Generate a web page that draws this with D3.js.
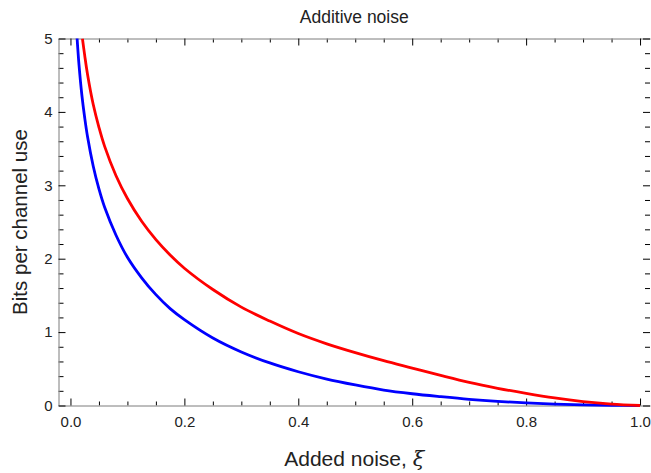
<!DOCTYPE html>
<html>
<head>
<meta charset="utf-8">
<script src="https://cdn.jsdelivr.net/npm/d3@7"></script>
<style>
  html, body { margin: 0; padding: 0; background: #fff; }
  svg { display: block; }
  text { font-family: "Liberation Sans", Arial, sans-serif; fill: #222; }
</style>
</head>
<body>
<svg id="chart" width="651" height="473"></svg>
<script>
// ---- data ----
const noiseXi = [0.0115, 0.015, 0.02, 0.025, 0.03, 0.04, 0.05, 0.06, 0.08, 0.1, 0.125, 0.15, 0.175, 0.2, 0.25, 0.3, 0.35, 0.4, 0.45, 0.5, 0.55, 0.6, 0.65, 0.7, 0.75, 0.8, 0.85, 0.9, 0.95, 1.0];
const blueBits = [5.02, 4.64, 4.23, 3.92, 3.66, 3.26, 2.95, 2.70, 2.32, 2.02, 1.74, 1.51, 1.32, 1.17, 0.92, 0.73, 0.58, 0.46, 0.36, 0.28, 0.21, 0.16, 0.12, 0.084, 0.056, 0.035, 0.019, 0.008, 0.002, 0.0];
const redXi = [0.021, 0.025, 0.03, 0.04, 0.05, 0.06, 0.08, 0.1, 0.125, 0.15, 0.175, 0.2, 0.25, 0.3, 0.35, 0.4, 0.45, 0.5, 0.55, 0.6, 0.65, 0.7, 0.75, 0.8, 0.85, 0.9, 0.95, 1.0];
const redBits = [5.0, 4.77, 4.51, 4.10, 3.79, 3.53, 3.13, 2.82, 2.51, 2.26, 2.05, 1.87, 1.58, 1.34, 1.15, 0.98, 0.84, 0.72, 0.61, 0.51, 0.41, 0.315, 0.235, 0.165, 0.103, 0.054, 0.02, 0.0];
const xMajorTicks = [0.0, 0.2, 0.4, 0.6, 0.8, 1.0];
const xMinorTicks = [0.05, 0.1, 0.15, 0.25, 0.3, 0.35, 0.45, 0.5, 0.55, 0.65, 0.7, 0.75, 0.85, 0.9, 0.95];
const yMajorTicks = [0, 1, 2, 3, 4, 5];
const yMinorTicks = [0.2,0.4,0.6,0.8,1.2,1.4,1.6,1.8,2.2,2.4,2.6,2.8,3.2,3.4,3.6,3.8,4.2,4.4,4.6,4.8];
const titleText = "Additive noise";
const yLabel = "Bits per channel use";

// ---- layout ----
const svg = d3.select("#chart");
const L = 58.5, R = 650, T = 38.5, B = 405.5;
const x = d3.scaleLinear().domain([-0.021, 1.0175]).range([L, R]);
const y = d3.scaleLinear().domain([0, 5]).range([B, T]);

function styleAxis(g, showDomain) {
  g.selectAll(".domain").attr("stroke", showDomain ? "#a8a8a8" : "none").attr("stroke-width", 1);
  g.selectAll(".tick line").attr("stroke", "#000").attr("stroke-width", 1);
  g.selectAll(".tick text").style("font-size", "15px").attr("fill", "#222");
}

// bottom
svg.append("g").attr("transform", `translate(0,${B})`)
  .call(d3.axisBottom(x).tickValues(xMinorTicks).tickSizeInner(-4).tickSizeOuter(0).tickFormat(""))
  .call(g => styleAxis(g, true));
svg.append("g").attr("transform", `translate(0,${B})`)
  .call(d3.axisBottom(x).tickValues(xMajorTicks).tickSizeInner(-7).tickSizeOuter(0).tickPadding(11).tickFormat(d3.format(".1f")))
  .call(g => styleAxis(g, true));
// top
svg.append("g").attr("transform", `translate(0,${T})`)
  .call(d3.axisTop(x).tickValues(xMinorTicks).tickSizeInner(-4).tickSizeOuter(0).tickFormat(""))
  .call(g => styleAxis(g, true));
svg.append("g").attr("transform", `translate(0,${T})`)
  .call(d3.axisTop(x).tickValues(xMajorTicks).tickSizeInner(-7).tickSizeOuter(0).tickFormat(""))
  .call(g => styleAxis(g, true));
// left
svg.append("g").attr("transform", `translate(${L},0)`)
  .call(d3.axisLeft(y).tickValues(yMinorTicks).tickSizeInner(-5).tickSizeOuter(0).tickFormat(""))
  .call(g => styleAxis(g, true));
svg.append("g").attr("transform", `translate(${L},0)`)
  .call(d3.axisLeft(y).tickValues(yMajorTicks).tickSizeInner(-7).tickSizeOuter(0).tickPadding(6).tickFormat(d3.format("d")))
  .call(g => styleAxis(g, true));
// right
svg.append("g").attr("transform", `translate(${R},0)`)
  .call(d3.axisRight(y).tickValues(yMinorTicks).tickSizeInner(-5).tickSizeOuter(0).tickFormat(""))
  .call(g => styleAxis(g, false));
svg.append("g").attr("transform", `translate(${R},0)`)
  .call(d3.axisRight(y).tickValues(yMajorTicks).tickSizeInner(-7).tickSizeOuter(0).tickFormat(""))
  .call(g => styleAxis(g, false));

// clip
svg.append("clipPath").attr("id", "clip")
  .append("rect").attr("x", L).attr("y", T).attr("width", R - L).attr("height", 473 - T);

const line = d3.line().curve(d3.curveCatmullRom.alpha(0.5)).x(d => x(d[0])).y(d => y(d[1]));
const plot = svg.append("g").attr("clip-path", "url(#clip)");
plot.append("path").datum(d3.zip(noiseXi, blueBits))
  .attr("d", line).attr("fill", "none").attr("stroke", "#0000ff").attr("stroke-width", 2.8);
plot.append("path").datum(d3.zip(redXi, redBits))
  .attr("d", line).attr("fill", "none").attr("stroke", "#ff0000").attr("stroke-width", 2.8);

// titles
svg.append("text").attr("x", (L + R) / 2).attr("y", 23).attr("text-anchor", "middle")
  .style("font-size", "17.5px").text(titleText);
const xl = svg.append("text").attr("x", (L + R) / 2).attr("y", 466).attr("text-anchor", "middle")
  .style("font-size", "21px");
xl.append("tspan").text("Added noise, ");
xl.append("tspan").style("font-style", "italic").style("font-family", "'DejaVu Serif', 'Liberation Serif', serif").text("ξ");
svg.append("text").attr("transform", `translate(27,${(T + B) / 2}) rotate(-90)`)
  .attr("text-anchor", "middle").style("font-size", "20.5px").text(yLabel);
</script>
</body>
</html>
